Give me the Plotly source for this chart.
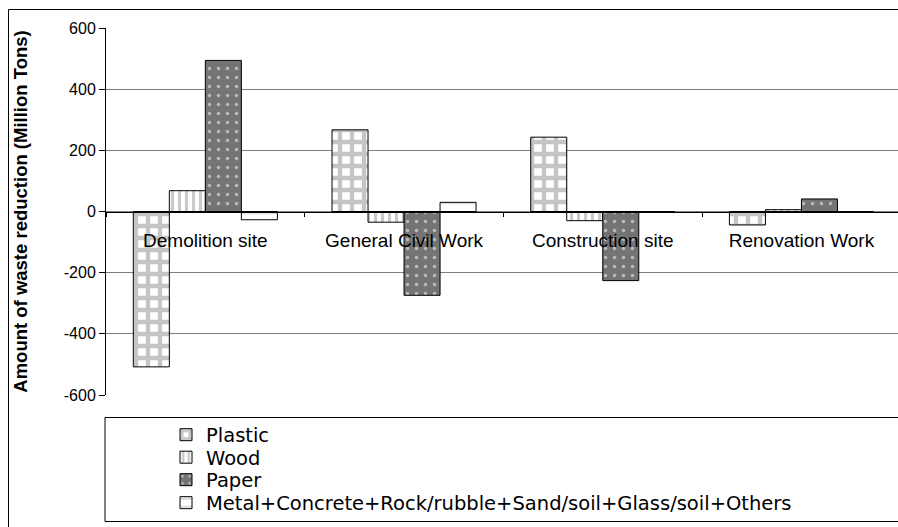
import plotly.graph_objects as go

# Waste reduction by site type and material (million tons)
categories = ["Demolition site", "General Civil Work", "Construction site", "Renovation Work"]
plastic = [-508, 267, 243, -44]
wood = [68, -35, -30, 6]
paper = [494, -274, -226, 41]
metal_other = [-27, 30, 0, 0]

series_names = ["Plastic", "Wood", "Paper",
                "Metal+Concrete+Rock/rubble+Sand/soil+Glass/soil+Others"]
y_ticks = [-600, -400, -200, 0, 200, 400, 600]

FONT = "Arial, Liberation Sans, sans-serif"
LEGEND_FONT = "DejaVu Sans, Arial, sans-serif"

patterns = [
    dict(shape="+", fgcolor="#8c8c8c", bgcolor="white", size=12, solidity=0.6),
    dict(shape="|", fgcolor="#969696", bgcolor="white", size=7, solidity=0.45),
    dict(shape=".", fgcolor="white", bgcolor="#747474", size=9, solidity=0.12),
    dict(shape="-", fgcolor="#b8b8b8", bgcolor="white", size=10, solidity=0.25),
]

W, H = 898, 527
L, R, T, B = 106, 0, 28, 132
pw, ph = W - L - R, H - T - B
cat_w = 198.7


def px_x(px):
    return (px - L) / pw


def px_y(py):
    return (H - B - py) / ph


# one legend per series so the rows sit at a fixed pitch
legend_ids = ["legend", "legend2", "legend3", "legend4"]
row_y = [435, 457.5, 480, 503]

fig = go.Figure()
for name, vals, pat, lid in zip(series_names, [plastic, wood, paper, metal_other],
                                patterns, legend_ids):
    fig.add_trace(go.Bar(
        name=name, x=categories, y=vals, legend=lid,
        marker=dict(color=pat["bgcolor"], pattern=pat,
                    line=dict(color="black", width=1)),
    ))

legend_style = dict(
    x=px_x(166), xanchor="left", yanchor="middle",
    font=dict(family=LEGEND_FONT, size=19.5, color="black"),
    bgcolor="rgba(0,0,0,0)", borderwidth=0,
)

fig.update_layout(
    width=W, height=H,
    margin=dict(l=L, r=R, t=T, b=B, pad=0, autoexpand=False),
    paper_bgcolor="white", plot_bgcolor="white",
    barmode="group", bargap=0.275, bargroupgap=0,
    font=dict(family=FONT, color="black"),
    showlegend=True,
    **{lid: dict(legend_style, y=px_y(ry)) for lid, ry in zip(legend_ids, row_y)},
    xaxis=dict(
        type="category",
        range=[-0.5, -0.5 + pw / cat_w],
        anchor="free", position=0.5,
        showline=True, linecolor="black", linewidth=1,
        ticks="outside", ticklen=4, tickcolor="black", tickwidth=1,
        tickson="boundaries",
        ticklabelstandoff=12,
        tickfont=dict(family=FONT, size=19, color="black"),
        showgrid=False, zeroline=False,
    ),
    yaxis=dict(
        range=[-600, 600],
        tickvals=y_ticks,
        ticktext=[str(v) for v in y_ticks],
        showline=True, linecolor="black", linewidth=1,
        ticks="outside", ticklen=6, tickcolor="black", tickwidth=1,
        tickfont=dict(family=FONT, size=16, color="black"),
        showgrid=True, gridcolor="#7f7f7f", gridwidth=1,
        zeroline=False,
        title=dict(text="<b>Amount of waste reduction (Million Tons)</b>",
                   font=dict(family=FONT, size=18.5, color="black"),
                   standoff=31),
    ),
    shapes=[
        # outer chart frame
        dict(type="rect", xref="paper", yref="paper",
             x0=px_x(8.5), x1=px_x(905), y0=px_y(540), y1=px_y(9.5),
             line=dict(color="black", width=1), fillcolor="rgba(0,0,0,0)",
             layer="below"),
        # legend frame
        dict(type="rect", xref="paper", yref="paper",
             x0=px_x(105), x1=px_x(905), y0=px_y(521.5), y1=px_y(417.5),
             line=dict(color="black", width=1), fillcolor="rgba(0,0,0,0)"),
    ],
)

fig.write_html("out.html")
